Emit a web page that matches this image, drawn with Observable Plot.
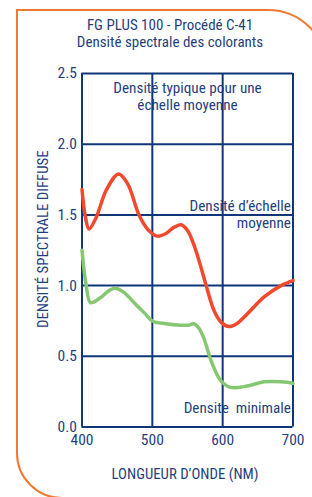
<!DOCTYPE html>
<html><head><meta charset="utf-8">
<script src="https://cdn.jsdelivr.net/npm/d3@7"></script>
<script src="https://cdn.jsdelivr.net/npm/@observablehq/plot@0.6"></script>
<style>
html,body{margin:0;padding:0;background:#fff;overflow:hidden;}
#wrap{position:relative;width:312px;height:497px;overflow:hidden;font-family:"Liberation Sans Narrow","Roboto Condensed","Arial Narrow","Liberation Sans",sans-serif;color:#1f3f7e;}
#frame{position:absolute;left:16px;top:9px;width:312px;height:490px;border:2.5px solid #f07a32;border-radius:0 60px 0 46px;box-sizing:border-box;}
#title{position:absolute;left:0;width:340px;top:17px;text-align:center;font-size:15px;line-height:16.5px;}
#chart{position:absolute;left:0;top:0;}
</style></head>
<body><div id="wrap"><div id="frame"></div><div id="chart"></div><div id="title"></div></div>
<script>
const titleLines = ["FG PLUS 100 - Procédé C-41", "Densité spectrale des colorants"];
const xLabel = "LONGUEUR D’ONDE (NM)";
const yLabel = "DENSITÉ SPECTRALE DIFFUSE";
const xTicks = [400, 500, 600, 700];
const yTicks = [0, 0.5, 1.0, 1.5, 2.0, 2.5];

const redNm  = [400, 405, 410, 420, 435, 452, 465, 481, 495, 507, 520, 530, 541, 550, 559, 568, 576, 588, 598, 609, 620, 635, 659, 683, 700];
const redVal = [1.68, 1.48, 1.40, 1.48, 1.68, 1.79, 1.72, 1.50, 1.39, 1.35, 1.37, 1.41, 1.43, 1.39, 1.29, 1.15, 1.01, 0.82, 0.74, 0.71, 0.73, 0.80, 0.92, 1.00, 1.035];

const greenNm  = [400, 406, 412, 425, 440, 449, 460, 476, 490, 500, 519, 540, 552, 559, 566, 573, 585, 597, 611, 635, 659, 683, 700];
const greenVal = [1.25, 1.00, 0.88, 0.91, 0.97, 0.98, 0.95, 0.87, 0.80, 0.75, 0.73, 0.72, 0.72, 0.73, 0.70, 0.63, 0.45, 0.33, 0.28, 0.29, 0.32, 0.32, 0.31];

const noteText = ["Densité typique pour une\néchelle moyenne", "Densité d’échelle\nmoyenne", "Densite  minimale"];
const noteNm   = [550, 697, 697];
const noteVal  = [2.341, 1.508, 0.14];
const noteAnchor = ["middle", "end", "end"];

const red = redNm.map((x, i) => ({x, y: redVal[i]}));
const green = greenNm.map((x, i) => ({x, y: greenVal[i]}));
const notes = noteText.map((t, i) => ({t, x: noteNm[i], y: noteVal[i], a: noteAnchor[i]}));

const blue = "#0f3678";
const txt = "#1f3f7e";
const font = '"Liberation Sans Narrow","Roboto Condensed","Arial Narrow","Liberation Sans",sans-serif';

const plot = Plot.plot({
  width: 312, height: 497,
  marginLeft: 81.5, marginRight: 19.5, marginTop: 73, marginBottom: 70.5,
  style: {fontFamily: font, fontSize: "15.5px", color: txt, background: "transparent", overflow: "visible"},
  x: {domain: [400, 700], ticks: xTicks, tickSize: 0, tickPadding: 7, label: null},
  y: {domain: [0, 2.5], ticks: yTicks, tickSize: 0, tickPadding: 5, tickFormat: d3.format(".1f"), label: null},
  marks: [
    Plot.ruleX(xTicks, {stroke: blue, strokeWidth: 2}),
    Plot.ruleY(yTicks, {stroke: blue, strokeWidth: 2}),
    Plot.text(notes.filter(d => d.a === "middle"), {x: "x", y: "y", text: "t", textAnchor: "middle", fill: txt, fontSize: 15.2, lineHeight: 1.15}),
    Plot.text(notes.filter(d => d.a === "end"), {x: "x", y: "y", text: "t", textAnchor: "end", fill: txt, fontSize: 15.2, lineHeight: 1.15}),
    Plot.line(green, {x: "x", y: "y", stroke: "#86c872", strokeWidth: 3.5, curve: "catmull-rom"}),
    Plot.line(red, {x: "x", y: "y", stroke: "#f04a2e", strokeWidth: 3.5, curve: "catmull-rom"}),
    Plot.text([xLabel], {frameAnchor: "bottom", textAnchor: "middle", dx: -2.5, dy: 51.5, fill: txt, fontSize: 14.8}),
    Plot.text([yLabel], {frameAnchor: "left", textAnchor: "middle", rotate: -90, dx: -39, dy: -11, fill: txt, fontSize: 14.8})
  ]
});
document.getElementById("chart").appendChild(plot);
document.getElementById("title").innerHTML = titleLines.map(s => `<div>${s}</div>`).join("");
</script></body></html>
